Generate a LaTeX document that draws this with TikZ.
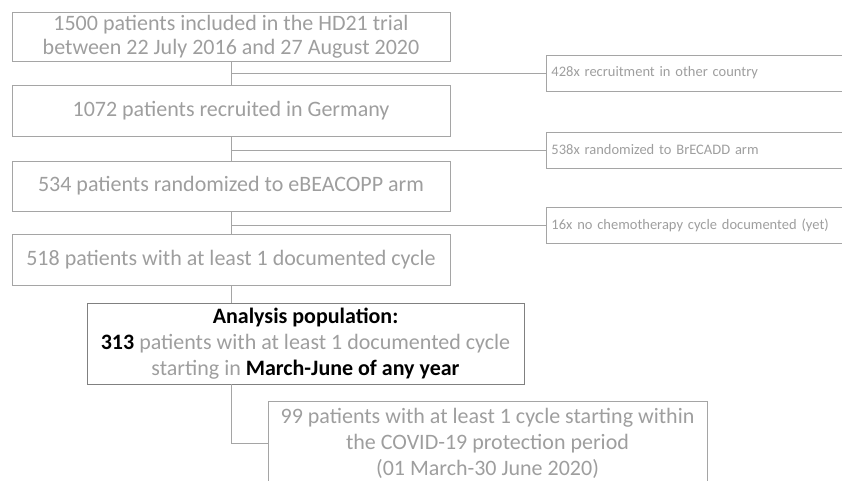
\documentclass[tikz,border=0pt]{standalone}
\usepackage{fontspec}
\setmainfont{Carlito}
\definecolor{txtgray}{RGB}{158,158,158}
\definecolor{linegray}{RGB}{165,165,165}
\definecolor{darkline}{RGB}{128,128,128}
\tikzset{
  mainbox/.style={draw=linegray, line width=0.9pt, text=txtgray, minimum width=438pt, inner sep=0pt, align=center, font=\fontsize{22}{24}\selectfont},
  sidebox/.style={draw=linegray, line width=0.9pt, text=txtgray, minimum width=360pt, minimum height=36pt, inner xsep=5pt, inner ysep=0pt, text width=350pt, align=left, font=\fontsize{14.5}{16}\selectfont},
  conn/.style={draw=linegray, line width=0.9pt},
}
\begin{document}
\begin{tikzpicture}[x=1pt,y=-1pt]
\useasboundingbox (0,0) rectangle (842,480);
\clip (0,0) rectangle (842,480);
\node[mainbox, minimum height=49pt] (b1) at (231,36.5) {1500 patients included in the HD21 trial\\between 22 July 2016 and 27 August 2020};
\node[mainbox, minimum height=51pt] (b2) at (231,110.5) {1072 patients recruited in Germany};
\node[mainbox, minimum height=50pt] (b3) at (231,186) {534 patients randomized to eBEACOPP arm};
\node[mainbox, minimum height=51pt] (b4) at (231,259.5) {518 patients with at least 1 documented cycle};
\node[mainbox, draw=darkline, minimum width=437pt, minimum height=81pt, font=\fontsize{22}{26}\selectfont] (ana) at (305.5,343.5) {\textcolor{black}{\textbf{Analysis population:}}\\\textcolor{black}{\textbf{313}} patients with at least 1 documented cycle\\starting in \textcolor{black}{\textbf{March-June of any year}}};
\node[mainbox, minimum width=439pt, minimum height=84pt, font=\fontsize{22}{26}\selectfont] (last) at (487.5,443) {99 patients with at least 1 cycle starting within\\the COVID-19 protection period\\(01 March-30 June 2020)};
\node[sidebox, anchor=west] (s1) at (546,73) {428x recruitment in other country};
\node[sidebox, anchor=west] (s2) at (546,150) {538x randomized to BrECADD arm};
\node[sidebox, anchor=west] (s3) at (546,225.5) {16x no chemotherapy cycle documented (yet)};
\coordinate (j1) at (231,73);
\coordinate (j2) at (231,150);
\coordinate (j3) at (231,225.5);
\draw[conn] (b1) -- (b2);
\draw[conn] (b2) -- (b3);
\draw[conn] (b3) -- (b4);
\draw[conn] (j1) -- (s1.west);
\draw[conn] (j2) -- (s2.west);
\draw[conn] (j3) -- (s3.west);
\draw[conn] (b4.south) -- (b4.south |- ana.north);
\draw[conn] (b4.south |- ana.south) |- (last.west);
\end{tikzpicture}
\end{document}
